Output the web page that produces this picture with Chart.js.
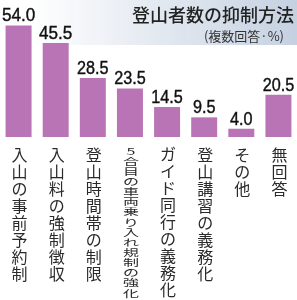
<!DOCTYPE html>
<html><head><meta charset="utf-8">
<script src="https://cdn.jsdelivr.net/npm/chart.js@4.4.1/dist/chart.umd.min.js"></script>
<style>html,body{margin:0;padding:0;background:#fff}#wrap{width:297px;height:300px;position:relative}</style>
</head><body><div id="wrap"><canvas id="c"></canvas></div>
<script>
// ---- data ----
const categories = ["入山の事前予約制","入山料の強制徴収","登山時間帯の制限","5合目の車両乗り入れ規制の強化","ガイド同行の義務化","登山講習の義務化","その他","無回答"];
const values = [54.0, 45.5, 28.5, 23.5, 14.5, 9.5, 4.0, 20.5];
const valueLabels = ["54.0","45.5","28.5","23.5","14.5","9.5","4.0","20.5"];
const titleText = "登山者数の抑制方法";
const subtitleText = "(複数回答·%)";

// ---- styles ----
const BAR_COLOR = '#b874b4';
const CJK = '"Noto Sans CJK JP", "Noto Sans", sans-serif';
const NUM = '"Liberation Sans", Arial, sans-serif';

const bandPlugin = {
  id: 'band',
  beforeDraw(chart) {
    const ctx = chart.ctx, W = chart.width;
    ctx.save();
    const g = ctx.createLinearGradient(30, 0, W, 0);
    g.addColorStop(0, 'rgba(197,209,225,0)');
    g.addColorStop(1, 'rgba(197,209,225,1)');
    ctx.fillStyle = g;
    ctx.fillRect(0, 0, W, 45);
    ctx.restore();
  },
  afterDraw(chart) {
    const ctx = chart.ctx, W = chart.width;
    ctx.save();
    ctx.fillStyle = '#222';
    ctx.textAlign = 'right';
    ctx.textBaseline = 'middle';
    ctx.font = '500 18px ' + CJK;
    ctx.fillText(titleText, W - 3, 15);
    ctx.font = '13px ' + CJK;
    ctx.fillStyle = '#333';
    ctx.fillText(subtitleText, W - 13, 36);
    ctx.restore();
  }
};

const labelPlugin = {
  id: 'vlabels',
  afterDatasetsDraw(chart) {
    const ctx = chart.ctx;
    const meta = chart.getDatasetMeta(0);
    ctx.save();
    // value labels
    ctx.fillStyle = '#111';
    ctx.strokeStyle = '#111';
    ctx.lineWidth = 0.4;
    ctx.textAlign = 'center';
    ctx.textBaseline = 'alphabetic';
    meta.data.forEach((bar, i) => {
      ctx.save();
      ctx.translate(bar.x, bar.y - 4);
      ctx.scale(0.9, 1);
      ctx.font = (i < 2 ? 19 : 18) + 'px ' + NUM;
      ctx.fillText(valueLabels[i], 0, 0);
      ctx.strokeText(valueLabels[i], 0, 0);
      ctx.restore();
    });
    // vertical category labels
    const top = 146, bottom = 298, cell = 17;
    ctx.fillStyle = '#2a2a2a';
    ctx.textBaseline = 'middle';
    ctx.font = '16px ' + CJK;
    categories.forEach((lab, i) => {
      const x = meta.data[i].x;
      const chars = Array.from(lab);
      const pitch = Math.min(cell, (bottom - top) / chars.length);
      chars.forEach((ch, j) => {
        ctx.save();
        ctx.translate(x + 1, top + pitch * (j + 0.5));
        ctx.scale(1, pitch / cell);
        ctx.fillText(ch, 0, 0);
        ctx.restore();
      });
    });
    ctx.restore();
  }
};

new Chart(document.getElementById('c'), {
  type: 'bar',
  data: {
    labels: categories,
    datasets: [{ data: values, backgroundColor: BAR_COLOR, barPercentage: 0.7, categoryPercentage: 1.0, borderWidth: 0 }]
  },
  options: {
    responsive: true,
    maintainAspectRatio: false,
    animation: false,
    layout: { padding: { top: 13, bottom: 163, left: 0, right: 0 } },
    scales: {
      x: { display: false },
      y: { display: false, min: 0, max: 60 }
    },
    plugins: { legend: { display: false }, tooltip: { enabled: false } }
  },
  plugins: [bandPlugin, labelPlugin]
});
</script>
</body></html>
